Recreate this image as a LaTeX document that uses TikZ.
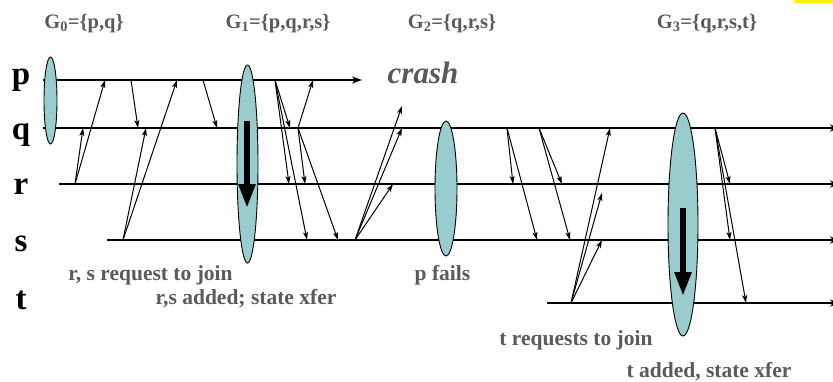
\documentclass[tikz,border=0pt]{standalone}
\usepackage{fontspec}
\setmainfont{Liberation Serif}
\usetikzlibrary{arrows.meta}
\definecolor{grp}{RGB}{153,204,204}
\definecolor{lbl}{RGB}{90,90,90}
\begin{document}
\begin{tikzpicture}[x=1pt,y=-1pt,
  tl/.style={line width=2.5pt},
  tla/.style={tl,-{Stealth[length=10pt,width=7pt,inset=3pt]}},
  msg/.style={line width=1pt,-{Stealth[length=8pt,width=5pt,inset=2pt]}},
  grpell/.style={draw=black,line width=0.9pt,fill=grp},
  bigarrow/.style={line width=5.5pt,-{Triangle[length=24pt,width=16pt]}},
  proc/.style={font=\fontsize{33}{33}\selectfont\bfseries,anchor=base,inner sep=0pt},
  glabel/.style={font=\fontsize{20.5}{20.5}\selectfont\bfseries,text=lbl,anchor=base,inner sep=0pt},
  note/.style={font=\fontsize{21.5}{21.5}\selectfont\bfseries,text=lbl,anchor=base,inner sep=0pt}
]
\useasboundingbox (0,0) rectangle (833,381);
\fill[yellow] (794,0) rectangle (833,2.5);

% process labels
\node[proc] (lp) at (21,84) {p};
\node[proc] (lq) at (21,139) {q};
\node[proc] (lr) at (21,194) {r};
\node[proc] (ls) at (21,251) {s};
\node[proc] (lt) at (21,309) {t};

% group labels
\node[glabel] (g0) at (84,28) {G\textsubscript{0}=\{p,q\}};
\node[glabel] (g1) at (278,28) {G\textsubscript{1}=\{p,q,r,s\}};
\node[glabel] (g2) at (452,28) {G\textsubscript{2}=\{q,r,s\}};
\node[glabel] (g3) at (707,28) {G\textsubscript{3}=\{q,r,s,t\}};

\node[anchor=base,inner sep=0pt,text=lbl,font=\fontsize{31}{31}\selectfont\bfseries\itshape] (crash) at (423,83) {crash};

% time lines
\draw[tla] (43,80) -- (362,80);
\draw[tla] (43,128) -- (840,128);
\draw[tla] (59,184) -- (840,184);
\draw[tla] (107,240) -- (840,240);
\draw[tla] (547,303) -- (840,303);

% messages
\draw[msg] (75,184) -- (83,128);
\draw[msg] (75,184) -- (105,80);
\draw[msg] (131,80) -- (138,128);
\draw[msg] (123,240) -- (146,128);
\draw[msg] (123,240) -- (177,80);
\draw[msg] (203,80) -- (217,128);
\draw[msg] (275,80) -- (290,128);
\draw[msg] (275,80) -- (289,184);
\draw[msg] (275,80) -- (307,240);
\draw[msg] (298,128) -- (313,80);
\draw[msg] (298,128) -- (305,184);
\draw[msg] (298,128) -- (338,240);
\draw[msg] (355,240) -- (402,106);
\draw[msg] (355,240) -- (402,128);
\draw[msg] (355,240) -- (393,184);
\draw[msg] (507,128) -- (513,184);
\draw[msg] (507,128) -- (537,240);
\draw[msg] (539,128) -- (562,184);
\draw[msg] (539,128) -- (570,240);
\draw[msg] (571,303) -- (610,128);
\draw[msg] (571,303) -- (602,193);
\draw[msg] (571,303) -- (602,240);
\draw[msg] (715,128) -- (730,184);
\draw[msg] (715,128) -- (730,240);
\draw[msg] (715,128) -- (746,303);

% group membership ellipses
\draw[grpell] (50.5,100.5) ellipse [x radius=6.5, y radius=43.5];
\draw[grpell] (247.5,164) ellipse [x radius=10.5, y radius=99];
\draw[grpell] (446,188.5) ellipse [x radius=11, y radius=67.5];
\draw[grpell] (683,224.5) ellipse [x radius=15, y radius=111.5];

% state transfer arrows
\draw[bigarrow] (247,121) -- (247,208);
\draw[bigarrow] (683,208) -- (683,296);

% notes
\node[note] (n1) at (150.5,280) {r, s request to join};
\node[note] (n2) at (246,304) {r,s added; state xfer};
\node[note] (n3) at (442.5,280) {p fails};
\node[note] (n4) at (576,345) {t requests to join};
\node[note] (n5) at (709,377) {t added, state xfer};
\end{tikzpicture}
\end{document}
